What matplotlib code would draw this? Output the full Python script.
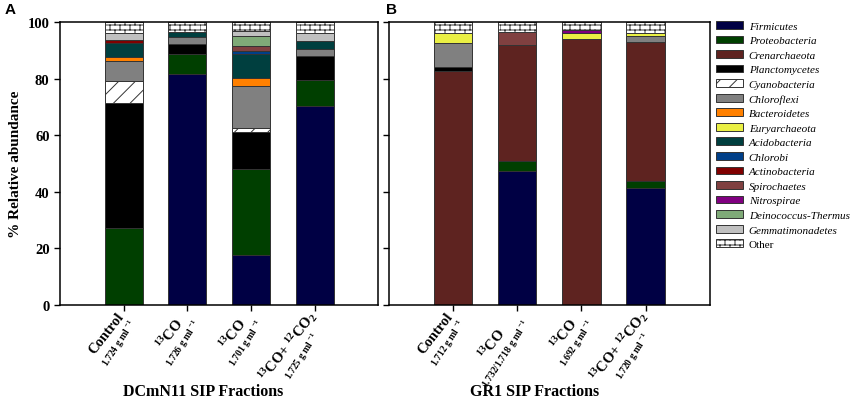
import numpy as np
import matplotlib
matplotlib.use("Agg")
import matplotlib.pyplot as plt
from matplotlib import hatch as mhatch
from matplotlib.path import Path


# brick pattern for the "Other" fraction
class BrickHatch(mhatch.HatchPatternBase):
    def __init__(self, hatch, density):
        n = hatch.count('b')
        self.rows = 20 * n
        self.cols = 10 * n
        self.num_vertices = (self.rows + self.rows * self.cols) * 2 if n else 0

    def set_vertices_and_codes(self, vertices, codes):
        k = 0
        for r in range(self.rows):
            y0 = r / self.rows
            y1 = (r + 1) / self.rows
            vertices[k] = (0, y0)
            vertices[k + 1] = (1, y0)
            codes[k] = Path.MOVETO
            codes[k + 1] = Path.LINETO
            k += 2
            shift = 0.5 if r % 2 else 0.0
            for c in range(self.cols):
                x = ((c + shift) / self.cols) % 1.0
                vertices[k] = (x, y0)
                vertices[k + 1] = (x, y1)
                codes[k] = Path.MOVETO
                codes[k + 1] = Path.LINETO
                k += 2


mhatch._hatch_types.append(BrickHatch)
mhatch._validate_hatch_pattern = lambda h: None

plt.rcParams['font.family'] = ['Liberation Serif', 'DejaVu Serif']
plt.rcParams['mathtext.fontset'] = 'custom'
plt.rcParams['mathtext.rm'] = 'Liberation Serif:bold'
plt.rcParams['mathtext.it'] = 'Liberation Serif:bold'
plt.rcParams['mathtext.bf'] = 'Liberation Serif:bold'
plt.rcParams['hatch.linewidth'] = 0.7

# first four bars: DCmN11, last four: GR1
firmicutes = [0, 81.6, 17.8, 70.2, 0, 47.5, 0, 41.2]
proteobacteria = [27.2, 7.1, 30.3, 9.3, 0, 3.5, 0, 2.7]
crenarchaeota = [0, 0, 0, 0, 82.6, 41.0, 94.0, 48.9]
planctomycetes = [44.1, 3.5, 13.0, 8.6, 1.4, 0, 0, 0]
cyanobacteria = [8.0, 0, 1.4, 0, 0, 0, 0, 0]
chloroflexi = [7.1, 2.4, 14.8, 2.4, 8.5, 0, 0, 2.3]
bacteroidetes = [1.2, 0, 2.9, 0, 0, 0, 0, 0]
euryarchaeota = [0, 0, 0, 0, 3.5, 0, 2.1, 0.9]
acidobacteria = [4.9, 1.8, 8.5, 2.9, 0, 0, 0, 0]
chlorobi = [0, 0, 1.2, 0, 0, 0, 0, 0]
actinobacteria = [1.2, 0, 0, 0, 0, 0, 0, 0]
spirochaetes = [0, 0, 1.8, 0, 0, 4.6, 0, 0]
nitrospirae = [0, 0, 0, 0, 0, 0, 1.1, 0]
deinococcus = [0, 0, 3.5, 0, 0, 0, 0, 0]
gemmatimonadetes = [2.4, 0, 1.6, 2.6, 0, 0, 0, 0]
other = [3.9, 3.5, 3.2, 3.9, 3.9, 3.4, 2.8, 4.0]

phyla = ["Firmicutes", "Proteobacteria", "Crenarchaeota", "Planctomycetes",
         "Cyanobacteria", "Chloroflexi", "Bacteroidetes", "Euryarchaeota",
         "Acidobacteria", "Chlorobi", "Actinobacteria", "Spirochaetes",
         "Nitrospirae", "Deinococcus-Thermus", "Gemmatimonadetes", "Other"]
series = [firmicutes, proteobacteria, crenarchaeota, planctomycetes,
          cyanobacteria, chloroflexi, bacteroidetes, euryarchaeota,
          acidobacteria, chlorobi, actinobacteria, spirochaetes,
          nitrospirae, deinococcus, gemmatimonadetes, other]
colors = ['#000044', '#003f00', '#5e2320', '#000000', '#ffffff', '#808080',
          '#ff8000', '#eaf044', '#003f3f', '#003f88', '#800000', '#804040',
          '#800080', '#7faa78', '#c0c0c0', '#ffffff']
hatches = [None, None, None, None, '//', None, None, None,
           None, None, None, None, None, None, None, 'b']

main_labels_a = ['Control', r'$^{13}$CO', r'$^{13}$CO', r'$^{13}$CO+ $^{12}$CO$_2$']
dens_labels_a = [r'1.724 g ml $^{-1}$', r'1.726 g ml $^{-1}$',
                 r'1.701 g ml $^{-1}$', r'1.725 g ml $^{-1}$']
main_labels_b = ['Control', r'$^{13}$CO', r'$^{13}$CO', r'$^{13}$CO+ $^{12}$CO$_2$']
dens_labels_b = [r'1.712 g ml $^{-1}$', r'1.732/1.718 g ml $^{-1}$',
                 r'1.692 g ml $^{-1}$', r'1.720 g ml $^{-1}$']
group_titles = ['DCmN11 SIP Fractions', 'GR1 SIP Fractions']

fig = plt.figure(figsize=(8.51, 4.10), dpi=100)
ax_a = fig.add_axes([0.0705, 0.2537, 0.374, 0.690])
ax_b = fig.add_axes([0.457, 0.2537, 0.377, 0.690])

x = np.arange(4)
handles = []
for ax, sl in [(ax_a, slice(0, 4)), (ax_b, slice(4, 8))]:
    bottom = np.zeros(4)
    hs = []
    for name, vals, col, hat in zip(phyla, series, colors, hatches):
        v = np.array(vals[sl], dtype=float)
        b = ax.bar(x, v, 0.6, bottom=bottom, color=col, edgecolor='#333333',
                   linewidth=0.7, hatch=hat, label=name)
        hs.append(b)
        bottom += v
    handles.append(hs)
    ax.set_xlim(-1.0, 4.0)
    ax.set_ylim(0, 100)
    ax.set_xticks(x)
    ax.set_xticklabels([])
    ax.set_yticks(np.arange(0, 101, 20))
    ax.tick_params(direction='out', length=4, width=1)
    for s in ax.spines.values():
        s.set_linewidth(1.1)

ax_a.set_yticklabels([str(v) for v in range(0, 101, 20)],
                     fontsize=10.5, fontweight='bold')
ax_b.set_yticklabels([])
ax_a.set_ylabel('% Relative abundance', fontsize=11, fontweight='bold', labelpad=4)

# rotated two-line tick labels, centred on each other
renderer = fig.canvas.get_renderer()
ang_main, ang_dens = 52, 57
size_main, size_dens = 10.5, 7
to_pt = 72.0 / fig.dpi


def text_width(s, size):
    t = fig.text(0, 0, s, fontsize=size, fontweight='bold')
    w = t.get_window_extent(renderer).width
    t.remove()
    return w


for ax, mains, dens in [(ax_a, main_labels_a, dens_labels_a),
                        (ax_b, main_labels_b, dens_labels_b)]:
    for i, (m, d) in enumerate(zip(mains, dens)):
        w1 = text_width(m, size_main)
        w2 = text_width(d, size_dens)
        wmax = max(w1, w2)
        ax0, ay0 = -1.0, -7.0
        u1 = np.array([np.cos(np.radians(ang_main)), np.sin(np.radians(ang_main))])
        u2 = np.array([np.cos(np.radians(ang_dens)), np.sin(np.radians(ang_dens))])
        c1 = np.array([ax0, ay0]) - u1 * wmax / 2
        nrm = np.array([np.sin(np.radians(55)), -np.cos(np.radians(55))])
        c2 = np.array([ax0, ay0]) + nrm * 14 - u2 * wmax / 2
        ax.annotate(m, xy=(x[i], 0), xycoords=ax.get_xaxis_transform(),
                    xytext=tuple(c1 * to_pt), textcoords='offset points',
                    ha='center', va='center', rotation=ang_main,
                    rotation_mode='anchor', fontsize=size_main, fontweight='bold',
                    annotation_clip=False)
        ax.annotate(d, xy=(x[i], 0), xycoords=ax.get_xaxis_transform(),
                    xytext=tuple(c2 * to_pt), textcoords='offset points',
                    ha='center', va='center', rotation=ang_dens,
                    rotation_mode='anchor', fontsize=size_dens, fontweight='bold',
                    annotation_clip=False)

fig.text(203 / 851, 1 - 392 / 410, group_titles[0], ha='center', va='center',
         fontsize=11.5, fontweight='bold')
fig.text(535 / 851, 1 - 392 / 410, group_titles[1], ha='center', va='center',
         fontsize=11.5, fontweight='bold')

fig.text(5 / 851, 1 - 3 / 410, 'A', ha='left', va='top', fontsize=11,
         fontweight='bold', family='Liberation Sans')
fig.text(386 / 851, 1 - 3 / 410, 'B', ha='left', va='top', fontsize=11,
         fontweight='bold', family='Liberation Sans')

leg = fig.legend(handles[0], phyla, loc='upper left',
                 bbox_to_anchor=(716 / 851, 1 - 22 / 410), frameon=False,
                 prop={'family': 'Liberation Serif', 'style': 'italic', 'size': 8},
                 handlelength=2.4, handleheight=0.7, labelspacing=0.43,
                 handletextpad=0.55, borderpad=0, borderaxespad=0)
leg.get_texts()[-1].set_fontstyle('normal')

fig.savefig('out.png', dpi=100)
